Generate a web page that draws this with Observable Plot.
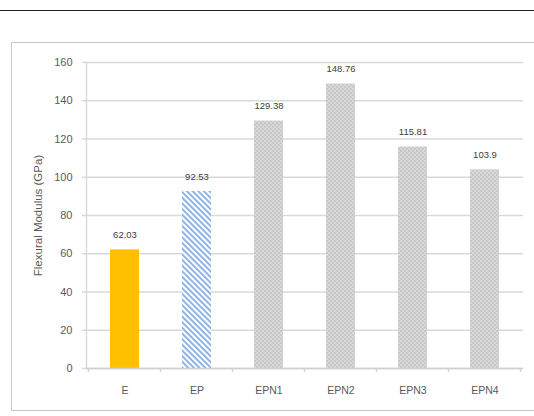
<!DOCTYPE html>
<html>
<head>
<meta charset="utf-8">
<script src="https://cdn.jsdelivr.net/npm/d3@7"></script>
<script src="https://cdn.jsdelivr.net/npm/@observablehq/plot@0.6"></script>
<style>
  html, body { margin: 0; padding: 0; background: #fff; }
  #wrap { position: relative; width: 534px; height: 416px; overflow: hidden; }
  #topline { position: absolute; left: 0; top: 10px; width: 534px; height: 0; border-top: 1px solid #222; }
  #frame { position: absolute; left: 11px; top: 42px; width: 560px; height: 367px; border: 1.5px solid #c8c8c8; }
  #chart { position: absolute; left: 0; top: 0; }
</style>
</head>
<body>
<div id="wrap">
  <div id="topline"></div>
  <div id="frame"></div>
  <div id="chart"></div>
</div>
<script>
const categories = ["E", "EP", "EPN1", "EPN2", "EPN3", "EPN4"];
const values = [62.03, 92.53, 129.38, 148.76, 115.81, 103.9];
const valueLabels = ["62.03", "92.53", "129.38", "148.76", "115.81", "103.9"];
const fills = ["#FFC000", "url(#stripes)", "url(#dots)", "url(#dots)", "url(#dots)", "url(#dots)"];
const yTicks = [0, 20, 40, 60, 80, 100, 120, 140, 160];

const data = categories.map((c, i) => ({cat: c, value: values[i], label: valueLabels[i], fill: fills[i]}));

const W = 534, H = 416, mL = 86, mR = 11, mT = 62, mB = 48;
const font = "'Liberation Sans', Arial, sans-serif";

const plot = Plot.plot({
  width: W,
  height: H,
  marginLeft: mL,
  marginRight: mR,
  marginTop: mT,
  marginBottom: mB,
  style: {fontFamily: font, background: "transparent", overflow: "visible"},
  x: {domain: categories, paddingInner: 0.6, paddingOuter: 0.3},
  y: {domain: [0, 160]},
  color: {type: "identity"},
  marks: [
    Plot.ruleY(yTicks, {y: d => d, stroke: "#d9d9d9", strokeWidth: 1.5, insetLeft: -4}),
    Plot.barY(data, {x: "cat", y: "value", fill: "fill"}),
    Plot.frame({anchor: "left", stroke: "#d9d9d9", strokeWidth: 1.5}),
    Plot.ruleY([0], {stroke: "#d0d0d0", strokeWidth: 1.5}),
    Plot.text(data, {x: "cat", y: "value", text: "label", dy: -15, fontSize: 9.5, fill: "#404040"}),
    Plot.axisY({ticks: yTicks, tickSize: 0, tickPadding: 14, fontSize: 11, color: "#595959", label: null}),
    Plot.axisX({tickSize: 0, tickPadding: 18, fontSize: 10.5, color: "#595959", label: null}),
    Plot.text(["Flexural Modulus (GPa)"], {frameAnchor: "left", textAnchor: "middle", dx: -48, rotate: -90, fontSize: 11.5, fill: "#595959"})
  ]
});

// band-boundary ticks below the baseline, placed with the plot's own scales
const xs = plot.scale("x"), ys = plot.scale("y");
const svg = d3.select(plot);
const y0 = ys.apply(0);
const gap = (xs.step - xs.bandwidth) / 2;
const bounds = categories.map(c => xs.apply(c) - gap);
bounds.push(xs.apply(categories[categories.length - 1]) + xs.bandwidth + gap);
svg.append("g").selectAll("line").data(bounds).join("line")
  .attr("x1", d => d).attr("x2", d => d)
  .attr("y1", y0).attr("y2", y0 + 4)
  .attr("stroke", "#d0d0d0").attr("stroke-width", 1.5);

const defs = svg.insert("defs", ":first-child");
const st = defs.append("pattern").attr("id", "stripes").attr("patternUnits", "userSpaceOnUse")
  .attr("width", 4).attr("height", 4).attr("patternTransform", "rotate(-45)");
st.append("rect").attr("width", 4).attr("height", 4).attr("fill", "#ffffff");
st.append("rect").attr("width", 2).attr("height", 4).attr("fill", "#8fb4e6");
const dt = defs.append("pattern").attr("id", "dots").attr("patternUnits", "userSpaceOnUse")
  .attr("width", 4).attr("height", 4);
dt.append("rect").attr("width", 4).attr("height", 4).attr("fill", "#c8c8c8");
dt.append("circle").attr("cx", 1).attr("cy", 1).attr("r", 0.8).attr("fill", "#eeeeee");
dt.append("circle").attr("cx", 3).attr("cy", 3).attr("r", 0.8).attr("fill", "#eeeeee");

document.getElementById("chart").appendChild(plot);
</script>
</body>
</html>
